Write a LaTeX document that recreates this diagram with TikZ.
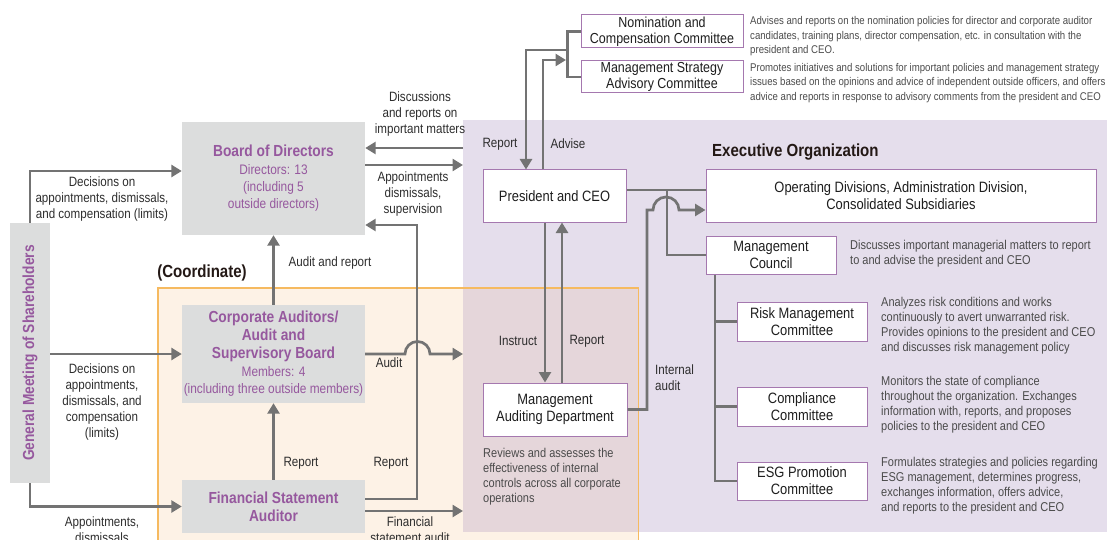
\documentclass[tikz,border=0pt]{standalone}
\usepackage{fontspec}
\setmainfont{Liberation Sans}[FakeStretch=0.86]
\usetikzlibrary{arrows.meta}

\definecolor{execbg}{RGB}{229,222,236}
\definecolor{coordfill}{RGB}{253,242,230}
\definecolor{coordline}{RGB}{246,186,96}
\definecolor{overlapbg}{RGB}{229,214,218}
\definecolor{boxgray}{RGB}{220,221,221}
\definecolor{purp}{RGB}{150,88,158}
\definecolor{boxedge}{RGB}{165,120,175}
\definecolor{linegray}{RGB}{115,115,115}
\definecolor{txt}{RGB}{30,30,30}
\definecolor{lbltxt}{RGB}{45,45,45}
\definecolor{desctxt}{RGB}{75,75,75}
\definecolor{headtxt}{RGB}{35,24,21}

\newcommand\ptitle[1]{{\bfseries\fontsize{16}{19}\selectfont #1}}

\begin{document}
\begin{tikzpicture}[x=1pt,y=-1pt,
  conn/.style={draw=linegray, line width=2.7pt},
  arr/.style={conn, -{Triangle[length=10.5pt,width=12pt]}},
  graybox/.style={fill=boxgray, inner sep=0pt, text=purp, align=center, font=\fontsize{13.8}{17}\selectfont},
  wbox/.style={draw=boxedge, line width=1pt, fill=white, inner sep=0pt, text=txt, align=center, font=\fontsize{15}{17}\selectfont},
  lbl/.style={text=lbltxt, align=center, inner sep=0pt, font=\fontsize{13.5}{16}\selectfont},
  desc/.style={text=desctxt, align=left, inner sep=0pt, anchor=north west, font=\fontsize{12.8}{15}\selectfont},
  smalldesc/.style={desc, font=\fontsize{11.2}{14.5}\selectfont},
  heading/.style={text=headtxt, inner sep=0pt, font=\bfseries\fontsize{17.5}{20}\selectfont},
]
\useasboundingbox (0,0) rectangle (1107,540);

% regions
\node[fill=execbg, inner sep=0pt, minimum width=644pt, minimum height=412pt, anchor=north west] (exec) at (463,120) {};
\node[fill=coordfill, inner sep=0pt, minimum width=480pt, minimum height=262pt, anchor=north west] (coord) at (158,288) {};
\fill[overlapbg] (exec.west |- coord.north) rectangle (coord.east |- exec.south);
\draw[coordline, line width=1.5pt] (coord.south west) rectangle (coord.north east);

\node[heading, anchor=west] (h1) at (712,152) {Executive Organization};
\node[heading] (h2) at (202,273) {(Coordinate)};

% governance bodies
\node[graybox, minimum width=40pt, minimum height=260pt] (gms) at (30,353) {};
\node[rotate=90, inner sep=0pt, text=purp] (gmstxt) at (gms.center) {\ptitle{General Meeting of Shareholders}};
\node[graybox, minimum width=183pt, minimum height=113pt] (bod) at (273.5,178.5)
  {\ptitle{Board of Directors}\\[1pt]Directors: 13\\(including 5\\outside directors)};
\node[graybox, minimum width=183pt, minimum height=98pt] (cab) at (273.5,354)
  {\ptitle{Corporate Auditors/}\\[1pt]\ptitle{Audit and}\\[1pt]\ptitle{Supervisory Board}\\[1pt]Members: 4\\(including three outside members)};
\node[graybox, minimum width=183pt, minimum height=53pt] (fsa) at (273.5,506.5)
  {\ptitle{Financial Statement}\\[1pt]\ptitle{Auditor}};

% executive bodies
\node[wbox, minimum width=162pt, minimum height=33pt, font=\fontsize{14.5}{16}\selectfont] (nom) at (662,31.5) {Nomination and\\Compensation Committee};
\node[wbox, minimum width=162pt, minimum height=32pt, font=\fontsize{14.5}{16}\selectfont] (mss) at (662,77) {Management Strategy\\Advisory Committee};
\node[wbox, minimum width=143pt, minimum height=52pt] (pres) at (554.5,196) {President and CEO};
\node[wbox, minimum width=390pt, minimum height=52pt] (ops) at (901,196) {Operating Divisions, Administration Division,\\Consolidated Subsidiaries};
\node[wbox, minimum width=130pt, minimum height=38pt] (mc) at (771,255) {Management\\Council};
\node[wbox, minimum width=144pt, minimum height=53pt] (mad) at (555,409.5) {Management\\Auditing Department};
\node[wbox, minimum width=130pt, minimum height=39pt] (risk) at (802,321.5) {Risk Management\\Committee};
\node[wbox, minimum width=130pt, minimum height=39pt] (comp) at (802,406.5) {Compliance\\Committee};
\node[wbox, minimum width=130pt, minimum height=38pt] (esg) at (802,481) {ESG Promotion\\Committee};

% descriptions
\node[smalldesc] (dnom) at (750,16.5) {Advises and reports on the nomination policies for director and corporate auditor\\candidates, training plans, director compensation, etc. in consultation with the\\president and CEO.};
\node[smalldesc] (dmss) at (750,63) {Promotes initiatives and solutions for important policies and management strategy\\issues based on the opinions and advice of independent outside officers, and offers\\advice and reports in response to advisory comments from the president and CEO};
\node[desc] (dmc) at (850,240.5) {Discusses important managerial matters to report\\to and advise the president and CEO};
\node[desc] (drisk) at (881,297.5) {Analyzes risk conditions and works\\continuously to avert unwarranted risk.\\Provides opinions to the president and CEO\\and discusses risk management policy};
\node[desc] (dcomp) at (881,376.5) {Monitors the state of compliance\\throughout the organization. Exchanges\\information with, reports, and proposes\\policies to the president and CEO};
\node[desc] (desg) at (881,457.5) {Formulates strategies and policies regarding\\ESG management, determines progress,\\exchanges information, offers advice,\\and reports to the president and CEO};
\node[desc] (dmad) at (483,448.5) {Reviews and assesses the\\effectiveness of internal\\controls across all corporate\\operations};

% free ends on the edge of the executive region
\coordinate (ex1) at (463,148);
\coordinate (ex2) at (463,165);
\coordinate (ex3) at (463,353);
\coordinate (ex4) at (463,511);
\coordinate (fr) at (417,499);
\coordinate (brk) at (568,50);
\coordinate (adv) at (566,60);
\coordinate (jn) at (667,190);

% shareholders
\draw[arr] (gms.north) |- ([yshift=7.5pt]bod.west);
\draw[arr] (gms.east |- cab.west) -- (cab.west);
\draw[arr] (gms.south) |- (fsa.west);

% board and auditors
\draw[arr] (ex1) -- (bod.east |- ex1);
\draw[arr] (bod.east |- ex2) -- (ex2);
\draw[arr] (cab.north) -- (bod.south);
\draw[arr] (fsa.north) -- (cab.south);
\draw[arr] (fsa.east |- fr) -- (fr) |- ([yshift=-46.5pt]bod.east);
\draw[arr] (cab.east) -- (405,354) arc[start angle=180, end angle=0, radius=12.5pt] -- (ex3 |- cab.east);
\draw[arr] (fsa.east |- ex4) -- (ex4);

% committees around the president
\draw[conn] (nom.west) -- ++(-13,0) |- (mss.west);
\draw[arr] (brk) -| (pres.north -| 526,0);
\draw[arr] (pres.north -| 543,0) |- (adv);

% executive organisation
\draw[conn] ([yshift=6pt]pres.east) -- ([yshift=6pt]ops.west);
\draw[conn] (jn) |- (mc.west);
\draw[arr] (mad.east) -- (647,409.5) -- (647,210) -- (653,210) arc[start angle=180, end angle=0, radius=13pt] -- ([yshift=-14pt]ops.west);
\draw[conn] (mc.south -| 715,0) |- (esg.west);
\draw[conn] (715,0 |- risk.west) -- (risk.west);
\draw[conn] (715,0 |- comp.west) -- (comp.west);
\draw[arr] (pres.south -| 545,0) -- (mad.north -| 545,0);
\draw[arr] (mad.north -| 562,0) -- (pres.south -| 562,0);

% connector labels
\node[lbl] (l1) at (102,199) {Decisions on\\appointments, dismissals,\\and compensation (limits)};
\node[lbl] (l2) at (102,402) {Decisions on\\appointments,\\dismissals, and\\compensation\\(limits)};
\node[lbl, anchor=north] (l3) at (102,516.5) {Appointments,\\dismissals};
\node[lbl, anchor=north] (l4) at (410,516.5) {Financial\\statement audit};
\node[lbl] (l5) at (420,114) {Discussions\\and reports on\\important matters};
\node[lbl] (l6) at (413,194) {Appointments\\dismissals,\\supervision};
\node[lbl] (l7) at (330,263) {Audit and report};
\node[lbl] (l8) at (389,363) {Audit};
\node[lbl] (l9) at (301,463) {Report};
\node[lbl] (l10) at (391,463) {Report};
\node[lbl] (l11) at (500,144) {Report};
\node[lbl] (l12) at (568,144) {Advise};
\node[lbl] (l13) at (518,341) {Instruct};
\node[lbl] (l14) at (587,341) {Report};
\node[lbl, align=left, anchor=west] (l15) at (655,378) {Internal\\audit};
\end{tikzpicture}
\end{document}
